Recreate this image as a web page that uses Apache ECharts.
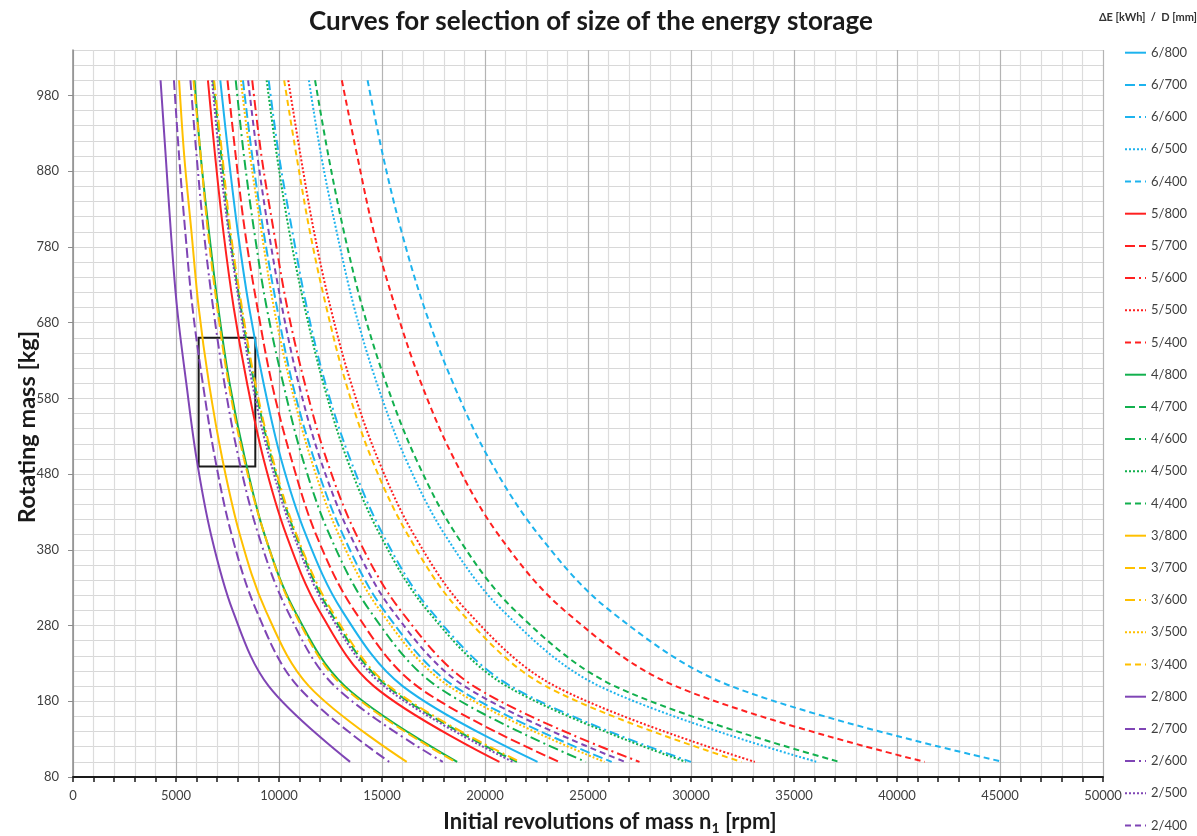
<!DOCTYPE html>
<html>
<head>
<meta charset="utf-8">
<title>Energy storage curves</title>
<script src="https://cdn.jsdelivr.net/npm/echarts@6/dist/echarts.min.js"></script>
<style>
  html, body { margin: 0; padding: 0; background: #fff; }
  #chart { width: 1197px; height: 836px; }
</style>
</head>
<body>
<div id="chart"></div>
<script>
// rotating mass [kg] at which each curve was read
const massKg = [1000, 900, 800, 700, 600, 500, 400, 300, 200, 100];

// initial revolutions n1 [rpm] per curve, same order as massKg
const n6_800 = [7150, 7550, 8000, 8550, 9250, 10100, 11300, 13050, 16000, 22550];
const n6_700 = [8250, 8700, 9250, 9900, 10650, 11700, 13100, 15100, 18500, 26150];
const n6_600 = [9500, 10000, 10650, 11350, 12250, 13450, 15050, 17350, 21250, 30000];
const n6_500 = [11450, 12050, 12800, 13650, 14750, 16150, 18050, 20850, 25550, 36100];
const n6_400 = [14300, 15050, 15950, 17050, 18450, 20200, 22600, 26050, 31950, 45150];
const n5_800 = [6550, 6900, 7300, 7800, 8450, 9250, 10350, 11950, 14600, 20700];
const n5_700 = [7500, 7900, 8350, 8950, 9650, 10600, 11800, 13650, 16700, 23600];
const n5_600 = [8700, 9150, 9750, 10400, 11250, 12300, 13750, 15900, 19450, 27500];
const n5_500 = [10450, 11050, 11700, 12500, 13500, 14800, 16550, 19100, 23400, 33100];
const n5_400 = [13050, 13800, 14600, 15650, 16900, 18500, 20650, 23850, 29250, 41350];
const n4_800 = [5900, 6200, 6600, 7050, 7600, 8350, 9300, 10750, 13200, 18650];
const n4_700 = [6800, 7200, 7600, 8150, 8800, 9650, 10800, 12450, 15250, 21550];
const n4_600 = [7900, 8300, 8800, 9400, 10200, 11150, 12450, 14400, 17650, 24900];
const n4_500 = [9400, 9900, 10500, 11250, 12150, 13300, 14900, 17200, 21050, 29750];
const n4_400 = [11750, 12400, 13150, 14050, 15200, 16650, 18600, 21450, 26300, 37200];
const n3_800 = [5150, 5400, 5750, 6100, 6600, 7250, 8100, 9350, 11450, 16200];
const n3_700 = [5850, 6200, 6550, 7000, 7550, 8300, 9300, 10700, 13100, 18550];
const n3_600 = [6850, 7250, 7650, 8200, 8850, 9700, 10850, 12550, 15350, 21700];
const n3_500 = [8150, 8600, 9150, 9750, 10550, 11550, 12900, 14900, 18250, 25800];
const n3_400 = [10250, 10850, 11500, 12300, 13250, 14500, 16250, 18750, 22950, 32450];
const n2_800 = [4250, 4500, 4750, 5050, 5500, 6000, 6700, 7750, 9500, 13450];
const n2_700 = [4900, 5150, 5450, 5800, 6300, 6900, 7700, 8900, 10900, 15350];
const n2_600 = [5700, 6000, 6350, 6800, 7350, 8050, 9000, 10400, 12700, 17950];
const n2_500 = [6750, 7100, 7550, 8100, 8700, 9550, 10700, 12350, 15100, 21350];
const n2_400 = [8500, 8950, 9500, 10150, 10950, 12000, 13450, 15500, 19000, 26800];

// marked selection window
const boxRpm = [6100, 8850];
const boxMass = [490, 660];

const energyColors = { 6: '#1DB3EE', 5: '#FF2020', 4: '#12B04E', 3: '#FFC000', 2: '#7F45B5' };
const dashByDiameter = {
  800: 'solid',
  700: [10, 4],
  600: [10, 4, 2, 4],
  500: [2, 2],
  400: [6, 4]
};

const curves = [
  ['6/800', n6_800], ['6/700', n6_700], ['6/600', n6_600], ['6/500', n6_500], ['6/400', n6_400],
  ['5/800', n5_800], ['5/700', n5_700], ['5/600', n5_600], ['5/500', n5_500], ['5/400', n5_400],
  ['4/800', n4_800], ['4/700', n4_700], ['4/600', n4_600], ['4/500', n4_500], ['4/400', n4_400],
  ['3/800', n3_800], ['3/700', n3_700], ['3/600', n3_600], ['3/500', n3_500], ['3/400', n3_400],
  ['2/800', n2_800], ['2/700', n2_700], ['2/600', n2_600], ['2/500', n2_500], ['2/400', n2_400]
];

const FONT = 'Lato, "Open Sans", sans-serif';

const chart = echarts.init(document.getElementById('chart'));

const seriesArr = curves.map(([name, rpm], idx) => {
  const [e, d] = name.split('/');
  const s = {
    name: name,
    type: 'line',
    smooth: 0.35,
    symbol: 'none',
    data: rpm.map((n, i) => [n, massKg[i]]),
    lineStyle: { color: energyColors[e], width: 2, type: dashByDiameter[d] },
    itemStyle: { color: energyColors[e] },
    z: 3
  };
  if (idx === 0) {
    s.markArea = {
      silent: true,
      itemStyle: { color: 'rgba(0,0,0,0)', borderColor: '#1a1a1a', borderWidth: 2 },
      data: [[{ coord: [boxRpm[0], boxMass[1]] }, { coord: [boxRpm[1], boxMass[0]] }]]
    };
  }
  return s;
});

const option = {
  animation: false,
  backgroundColor: '#fff',
  grid: { left: 73, right: 94, top: 50, bottom: 59 },
  legend: {
    orient: 'vertical',
    left: 1124,
    top: 45.7,
    padding: 0,
    itemWidth: 21,
    itemHeight: 14,
    itemGap: 18.2,
    data: curves.map(c => c[0]),
    itemStyle: { opacity: 0, borderWidth: 0 },
    textStyle: { fontFamily: FONT, fontSize: 13, color: '#404040', lineHeight: 14 }
  },
  xAxis: {
    type: 'value',
    min: 0,
    max: 50000,
    interval: 5000,
    axisLine: { lineStyle: { color: '#1a1a1a', width: 2 } },
    axisTick: { show: true, length: 5, lineStyle: { color: '#1a1a1a', width: 1.5 } },
    minorTick: { show: true, splitNumber: 5, length: 5, lineStyle: { color: '#1a1a1a', width: 1.5 } },
    axisLabel: { fontFamily: FONT, fontSize: 13, color: '#404040', margin: 12, formatter: v => String(v) },
    splitLine: { show: true, lineStyle: { color: '#b4b4b4', width: 1.2 } },
    minorSplitLine: { show: true, lineStyle: { color: '#dcdcdc', width: 1.2 } }
  },
  yAxis: [
    {
      type: 'value',
      min: 80,
      max: 1040,
      interval: 100,
      axisLine: { show: true, lineStyle: { color: '#8c8c8c', width: 1.5 } },
      axisTick: { show: true, length: 5, lineStyle: { color: '#8c8c8c' } },
      axisLabel: { fontFamily: FONT, fontSize: 13, color: '#404040', margin: 14, showMaxLabel: false },
      splitLine: { show: false }
    },
    {
      // only the horizontal grid, every 20 kg
      type: 'value',
      min: 80,
      max: 1040,
      interval: 20,
      position: 'right',
      axisLine: { show: false },
      axisTick: { show: false },
      axisLabel: { show: false },
      splitLine: { show: true, lineStyle: { color: '#d8d8d8', width: 1.2 } }
    }
  ],
  graphic: [
    {
      type: 'text', x: 591, y: 22,
      style: { text: 'Curves for selection of size of the energy storage', fontFamily: FONT, fontSize: 26, fontWeight: 'bold', fill: '#1a1a1a', align: 'center', verticalAlign: 'middle' }
    },
    {
      type: 'text', x: 1148, y: 17,
      style: { text: '\u0394E [kWh]  /  D [mm]', fontFamily: FONT, fontSize: 11, fontWeight: 'bold', fill: '#333', align: 'center', verticalAlign: 'middle' }
    },
    {
      type: 'text', x: 27, y: 427, rotation: Math.PI / 2,
      style: { text: 'Rotating mass [kg]', fontFamily: FONT, fontSize: 23.5, fontWeight: 'bold', fill: '#1a1a1a', align: 'center', verticalAlign: 'middle' }
    },
    {
      type: 'text', x: 610, y: 822,
      style: {
        text: '{a|Initial revolutions of mass n}{s|1}{a| [rpm]}',
        align: 'center', verticalAlign: 'middle',
        rich: {
          a: { fontFamily: FONT, fontSize: 22, fontWeight: 'bold', fill: '#1a1a1a', lineHeight: 26 },
          s: { fontFamily: FONT, fontSize: 14, fontWeight: 'bold', fill: '#1a1a1a', lineHeight: 26, verticalAlign: 'bottom', padding: [9, 0, 0, 0] }
        }
      }
    }
  ],
  series: seriesArr
};

chart.setOption(option);
</script>
</body>
</html>
